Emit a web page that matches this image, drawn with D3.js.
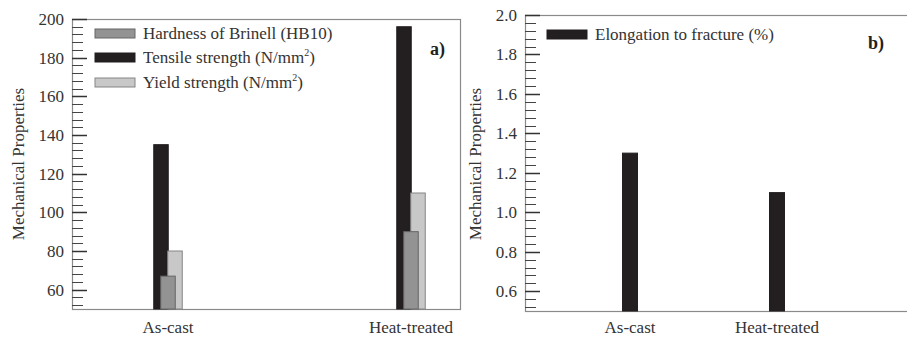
<!DOCTYPE html>
<html>
<head>
<meta charset="utf-8">
<script src="https://cdn.jsdelivr.net/npm/d3@7"></script>
</head>
<body style="margin:0">
<svg id="chart" width="907" height="342"></svg>
<script>
// panel a data
var categories = ["As-cast", "Heat-treated"];
var hardness = [67, 90];
var tensile = [135, 196];
var yieldStr = [80, 110];
var ticksA = [60, 80, 100, 120, 140, 160, 180, 200];

// panel b data
var elongation = [1.3, 1.1];
var ticksB = [0.6, 0.8, 1.0, 1.2, 1.4, 1.6, 1.8, 2.0];

var svg = d3.select("#chart");
var textCol = "#333";
var frameCol = "#8a8a8a";
var serif = "Liberation Serif";
var fs = 17;

function addText(g, x, y, str) {
  return g.append("text").attr("x", x).attr("y", y)
    .attr("fill", textCol).attr("font-family", serif).attr("font-size", fs)
    .text(str);
}

function drawYAxis(g, left, y, majors, minorStep, fmt) {
  var dom = y.domain();
  var minors = [];
  // minor ticks line up with the majors, 5 per interval
  for (var v = majors[0]; v >= dom[0] - 1e-9; v -= minorStep) minors.push(v);
  for (var w = majors[0] + minorStep; w <= dom[1] + 1e-9; w += minorStep) minors.push(w);
  var p = d3.path();
  minors.forEach(function(d) {
    var yy = Math.round(y(d)) + 0.5;
    p.moveTo(left, yy); p.lineTo(left + 11, yy);
  });
  g.append("path").attr("d", p.toString())
    .attr("fill", "none").attr("stroke", "#444").attr("stroke-width", 1.1);
  var q = d3.path();
  majors.forEach(function(d) {
    var yy = Math.round(y(d)) + 0.5;
    q.moveTo(left, yy); q.lineTo(left + 15, yy);
  });
  g.append("path").attr("d", q.toString())
    .attr("fill", "none").attr("stroke", "#333").attr("stroke-width", 1.6);
  majors.forEach(function(d) {
    addText(g, left - 8, y(d) + 6, fmt(d)).attr("text-anchor", "end");
  });
}

function legendRow(g, x, y, fill, stroke, label, sup) {
  g.append("rect").attr("x", x).attr("y", y).attr("width", 40).attr("height", 9)
    .attr("fill", fill).attr("stroke", stroke).attr("stroke-width", 1);
  var t = addText(g, x + 48, y + 10, label);
  if (sup) {
    t.append("tspan").attr("dy", -7).attr("font-size", 10).text("2");
    t.append("tspan").attr("dy", 7).text(")");
  }
}

// ---------- panel a ----------
(function() {
  var left = 72, top = 19, right = 460, bottom = 309;
  var g = svg.append("g");
  var y = d3.scaleLinear().domain([50, 200]).range([bottom, top]);
  var x = d3.scalePoint().domain(categories).range([left + 96, right - 49]);
  var bw = 14.5, step = 7;

  g.append("rect").attr("x", left + 0.5).attr("y", top + 0.5)
    .attr("width", right - left).attr("height", bottom - top)
    .attr("fill", "none").attr("stroke", frameCol).attr("stroke-width", 1.2);

  var series = [
    { vals: tensile, off: -step, fill: "#231f20", stroke: "#231f20" },
    { vals: yieldStr, off: step, fill: "#c8c8c8", stroke: "#858585" },
    { vals: hardness, off: 0, fill: "#939393", stroke: "#666" }
  ];
  series.forEach(function(s) {
    categories.forEach(function(c, i) {
      g.append("rect")
        .attr("x", x(c) + s.off - bw / 2)
        .attr("y", y(s.vals[i]))
        .attr("width", bw)
        .attr("height", y(50) - y(s.vals[i]))
        .attr("fill", s.fill).attr("stroke", s.stroke).attr("stroke-width", 1);
    });
  });

  drawYAxis(g, left, y, ticksA, 4, function(d) { return String(d); });

  categories.forEach(function(c) {
    addText(g, x(c), 333, c).attr("text-anchor", "middle");
  });

  addText(g, 0, 0, "Mechanical Properties")
    .attr("transform", "translate(24,164) rotate(-90)")
    .attr("text-anchor", "middle");

  legendRow(g, 95, 29, "#939393", "#666", "Hardness of Brinell (HB10)", false);
  legendRow(g, 95, 53, "#231f20", "#231f20", "Tensile strength (N/mm", true);
  legendRow(g, 95, 78, "#c8c8c8", "#858585", "Yield strength (N/mm", true);

  addText(g, 430, 55, "a)").attr("fill", "#231f20")
    .attr("font-size", 18).attr("font-weight", "bold");
})();

// ---------- panel b ----------
(function() {
  var left = 525, top = 15, right = 912, bottom = 311;
  var g = svg.append("g");
  var y = d3.scaleLinear().domain([0.5, 2.0]).range([bottom, top]);
  var x = d3.scalePoint().domain(categories).range([left + 105, left + 252]);
  var bw = 15;

  g.append("rect").attr("x", left + 0.5).attr("y", top + 0.5)
    .attr("width", right - left).attr("height", bottom - top)
    .attr("fill", "none").attr("stroke", frameCol).attr("stroke-width", 1.2);

  categories.forEach(function(c, i) {
    g.append("rect")
      .attr("x", x(c) - bw / 2)
      .attr("y", y(elongation[i]))
      .attr("width", bw)
      .attr("height", y(0.5) - y(elongation[i]))
      .attr("fill", "#231f20").attr("stroke", "#231f20").attr("stroke-width", 1);
  });

  drawYAxis(g, left, y, ticksB, 0.04, d3.format(".1f"));

  categories.forEach(function(c) {
    addText(g, x(c), 333, c).attr("text-anchor", "middle");
  });

  addText(g, 0, 0, "Mechanical Properties")
    .attr("transform", "translate(481,164) rotate(-90)")
    .attr("text-anchor", "middle");

  legendRow(g, 547, 30, "#231f20", "#231f20", "Elongation to fracture (%)", false);

  addText(g, 868, 49, "b)").attr("fill", "#231f20")
    .attr("font-size", 18).attr("font-weight", "bold");
})();
</script>
</body>
</html>
